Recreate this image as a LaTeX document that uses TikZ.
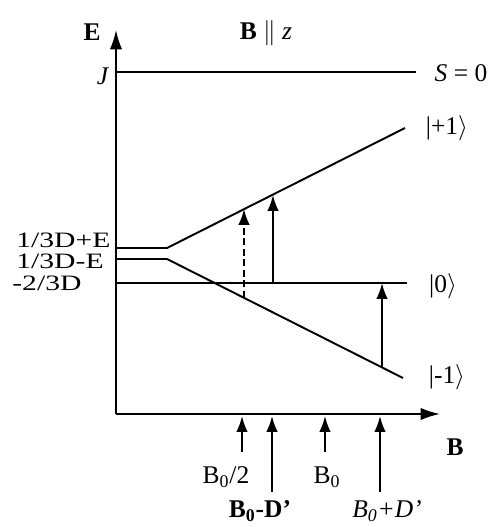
\documentclass[tikz,border=0pt]{standalone}
\usepackage{fontspec}
\setmainfont{Liberation Serif}
\usetikzlibrary{arrows.meta}

\begin{document}
\begin{tikzpicture}[x=0.02cm,y=-0.02cm,
    lvl/.style={line width=1.1pt},
    axis/.style={line width=1.1pt,-{Latex[length=11pt,width=7pt]}},
    trans/.style={line width=1.1pt,-{Latex[length=9pt,width=6.5pt]}},
    lbl/.style={font=\fontsize{14.5}{16}\selectfont,inner sep=1pt},
    side/.style={font=\fontsize{12.5}{13}\selectfont,inner sep=0pt,anchor=west}]
    \useasboundingbox (0,0) rectangle (497,527);
    % Achsen
    \coordinate (O) at (116,414);
    \coordinate (Etop) at (116,30);
    \coordinate (Bend) at (440,414);
    \draw[axis] (O) -- (Etop);
    \draw[axis] (O) -- (Bend);
    \node[lbl] (elab) at (92,32) {\textbf{E}};
    \node[lbl] (blab) at (455,447) {\textbf{B}};
    \node[lbl] (title) at (266,33) {\textbf{B} $\Vert$ \textit{z}};

    % Singulett
    \coordinate (J0) at (116,72);
    \coordinate (J1) at (416,72);
    \draw[lvl] (J0) -- (J1);
    \node[lbl] (jlab) at (103,76) {\textit{J}};
    \node[lbl] (slab) at (461,73) {\textit{S} = 0};

    % Triplett-Niveaus
    \coordinate (P0) at (116,248);
    \coordinate (P1) at (167,248);
    \coordinate (P2) at (405,128);
    \coordinate (M0) at (116,259);
    \coordinate (M1) at (167,259);
    \coordinate (M2) at (403,378);
    \coordinate (Z0) at (116,283);
    \coordinate (Z1) at (407,283);
    \draw[lvl] (P0) -- (P1) -- (P2);
    \draw[lvl] (M0) -- (M1) -- (M2);
    \draw[lvl] (Z0) -- (Z1);
    \node[lbl] (plab) at (447,128) {|+1$\rangle$};
    \node[lbl] (zlab) at (443,286) {|0$\rangle$};
    \node[lbl] (mlab) at (447,377) {|-1$\rangle$};
    \node[side] (lp) at (16,240) {\scalebox{1.35}[1]{1/3D+E}};
    \node[side] (lm) at (16,261.5) {\scalebox{1.35}[1]{1/3D-E}};
    \node[side] (lz) at (12,283) {\scalebox{1.35}[1]{-2/3D}};

    % Uebergaenge
    \coordinate (d0) at (244,298);
    \coordinate (d1) at (244,209);
    \coordinate (s0) at (273,283);
    \coordinate (s1) at (273,195);
    \coordinate (t0) at (382,367);
    \coordinate (t1) at (382,283);
    \draw[trans,dash pattern=on 4pt off 2pt] (d0) -- (d1);
    \draw[trans] (s0) -- (s1);
    \draw[trans] (t0) -- (t1);

    % Resonanzfelder
    \foreach \n/\x/\y in {a/242/452, b/272/492, c/325/452, d/380/492} {
        \coordinate (\n) at (\x,\y);
        \coordinate (\n') at (\x,416);
        \draw[trans] (\n) -- (\n');
    }
    \node[lbl] (ba) at (226,477) {B\textsubscript{0}/2};
    \node[lbl] (bb) at (260,511) {\textbf{B\textsubscript{0}-D'}};
    \node[lbl] (bc) at (327,477) {B\textsubscript{0}};
    \node[lbl] (bd) at (387,511) {\textit{B\textsubscript{0}+D'}};
\end{tikzpicture}
\end{document}
